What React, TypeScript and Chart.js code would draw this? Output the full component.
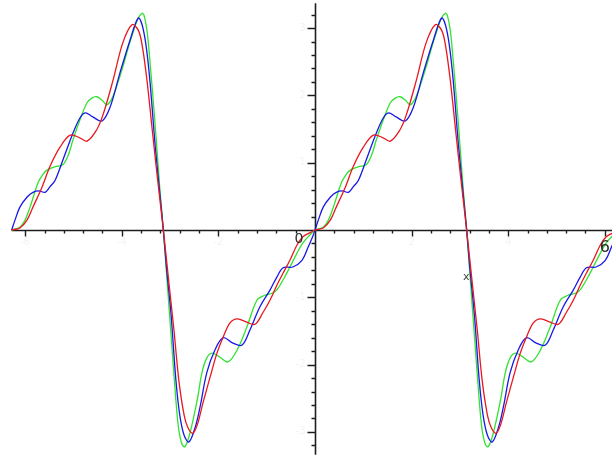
import { useEffect, useRef } from "react";
import { Chart, registerables } from "chart.js";

Chart.register(...registerables);

// Three periodic partial sums, sampled over [-2π, 2π]
const redX = [
  -6.28, -6.11, -5.96, -5.84, -5.65, -5.49, -5.28, -5.07, -4.87, -4.72, -4.52, -4.39, -4.18, -3.98, -3.79,
  -3.66, -3.58, -3.48, -3.37, -3.27, -3.14, -3.02, -2.92, -2.82, -2.71, -2.63, -2.53, -2.44, -2.32, -2.17,
  -2.03, -1.9, -1.76, -1.61, -1.41, -1.24, -1.08, -0.93, -0.79, -0.66, -0.52, -0.37, -0.25, -0.1, 0,
  0.17, 0.32, 0.44, 0.63, 0.79, 1.0, 1.21, 1.41, 1.56, 1.76, 1.89, 2.1, 2.3, 2.49, 2.62,
  2.7, 2.8, 2.91, 3.01, 3.14, 3.26, 3.36, 3.46, 3.57, 3.65, 3.75, 3.84, 3.96, 4.11, 4.25,
  4.38, 4.52, 4.67, 4.87, 5.04, 5.2, 5.35, 5.49, 5.62, 5.76, 5.91, 6.03, 6.18, 6.28,
];
const redY = [
  0, 0.03, 0.15, 0.34, 0.64, 0.94, 1.23, 1.41, 1.37, 1.32, 1.49, 1.71, 2.23, 2.78, 3.05,
  2.97, 2.75, 2.23, 1.49, 0.82, 0, -0.82, -1.49, -2.23, -2.75, -2.94, -3.02, -2.9, -2.57, -2.18,
  -1.83, -1.59, -1.38, -1.32, -1.37, -1.4, -1.23, -1.04, -0.82, -0.64, -0.45, -0.22, -0.1, -0.04, 0,
  0.03, 0.15, 0.34, 0.64, 0.94, 1.23, 1.41, 1.37, 1.32, 1.49, 1.71, 2.23, 2.78, 3.05,
  2.97, 2.75, 2.23, 1.49, 0.82, 0, -0.82, -1.49, -2.23, -2.75, -2.94, -3.02, -2.9, -2.57, -2.18,
  -1.83, -1.59, -1.38, -1.32, -1.37, -1.4, -1.23, -1.04, -0.82, -0.64, -0.45, -0.22, -0.1, -0.04, 0,
];

const blueX = [
  -6.28, -6.21, -6.11, -5.96, -5.84, -5.71, -5.59, -5.49, -5.38, -5.22, -5.01, -4.87, -4.76, -4.6, -4.41, -4.24,
  -4.04, -3.83, -3.66, -3.58, -3.5, -3.42, -3.31, -3.21, -3.14, -3.08, -2.98, -2.88, -2.8, -2.71, -2.61, -2.48,
  -2.38, -2.24, -2.07, -1.9, -1.7, -1.51, -1.35, -1.14, -0.93, -0.79, -0.66, -0.46, -0.27, -0.14, -0.06, 0,
  0.07, 0.17, 0.32, 0.44, 0.57, 0.69, 0.79, 0.9, 1.06, 1.27, 1.41, 1.52, 1.68, 1.87, 2.04,
  2.24, 2.45, 2.62, 2.7, 2.78, 2.86, 2.97, 3.07, 3.14, 3.2, 3.3, 3.4, 3.48, 3.57, 3.67, 3.8,
  3.9, 4.04, 4.21, 4.38, 4.58, 4.77, 4.93, 5.14, 5.35, 5.49, 5.62, 5.82, 6.01, 6.14, 6.22, 6.28,
];
const blueY = [
  0, 0.15, 0.34, 0.49, 0.56, 0.58, 0.56, 0.64, 0.74, 1.04, 1.44, 1.66, 1.74, 1.68, 1.62, 1.83,
  2.33, 2.82, 3.15, 3.05, 2.75, 2.23, 1.26, 0.52, 0, -0.52, -1.26, -2.23, -2.75, -3.05, -3.15, -2.93,
  -2.63, -2.12, -1.78, -1.6, -1.68, -1.71, -1.49, -1.14, -0.89, -0.7, -0.56, -0.55, -0.45, -0.25, -0.12, 0,
  0.15, 0.34, 0.49, 0.56, 0.58, 0.56, 0.64, 0.74, 1.04, 1.44, 1.66, 1.74, 1.68, 1.62, 1.83,
  2.33, 2.82, 3.15, 3.05, 2.75, 2.23, 1.26, 0.52, 0, -0.52, -1.26, -2.23, -2.75, -3.05, -3.15, -2.93,
  -2.63, -2.12, -1.78, -1.6, -1.68, -1.71, -1.49, -1.14, -0.89, -0.7, -0.56, -0.55, -0.45, -0.25, -0.12, 0,
];

const greenX = [
  -6.28, -6.11, -6.0, -5.9, -5.73, -5.63, -5.55, -5.38, -5.22, -5.11, -5.01, -4.87, -4.72, -4.62, -4.52, -4.41,
  -4.31, -4.2, -4.1, -3.98, -3.87, -3.77, -3.66, -3.58, -3.54, -3.48, -3.42, -3.31, -3.21, -3.14, -3.08, -2.98,
  -2.88, -2.82, -2.75, -2.69, -2.59, -2.44, -2.34, -2.24, -2.13, -1.97, -1.8, -1.61, -1.41, -1.2, -1.04, -0.89,
  -0.79, -0.66, -0.52, -0.37, -0.25, -0.1, 0,
  0.17, 0.28, 0.38, 0.55, 0.65, 0.73, 0.9, 1.06, 1.17, 1.27, 1.41, 1.56, 1.66, 1.76, 1.87,
  1.97, 2.08, 2.18, 2.3, 2.41, 2.51, 2.62, 2.7, 2.74, 2.8, 2.86, 2.97, 3.07, 3.14, 3.2, 3.3,
  3.4, 3.46, 3.53, 3.59, 3.69, 3.84, 3.94, 4.04, 4.15, 4.31, 4.48, 4.67, 4.87, 5.08, 5.24, 5.39,
  5.49, 5.62, 5.76, 5.91, 6.03, 6.18, 6.28,
];
const greenY = [
  0, 0.04, 0.15, 0.34, 0.71, 0.83, 0.89, 0.94, 0.97, 1.11, 1.34, 1.63, 1.89, 1.96, 1.98, 1.93,
  1.86, 1.96, 2.15, 2.42, 2.7, 2.93, 3.15, 3.22, 3.19, 2.97, 2.53, 1.56, 0.59, 0, -0.59, -1.56,
  -2.53, -2.97, -3.19, -3.22, -3.02, -2.53, -2.12, -1.9, -1.83, -1.89, -1.96, -1.78, -1.44, -1.04, -0.97, -0.94,
  -0.89, -0.74, -0.55, -0.34, -0.19, -0.07, 0,
  0.04, 0.15, 0.34, 0.71, 0.83, 0.89, 0.94, 0.97, 1.11, 1.34, 1.63, 1.89, 1.96, 1.98, 1.93,
  1.86, 1.96, 2.15, 2.42, 2.7, 2.93, 3.15, 3.22, 3.19, 2.97, 2.53, 1.56, 0.59, 0, -0.59, -1.56,
  -2.53, -2.97, -3.19, -3.22, -3.02, -2.53, -2.12, -1.9, -1.83, -1.89, -1.96, -1.78, -1.44, -1.04, -0.97, -0.94,
  -0.89, -0.74, -0.55, -0.34, -0.19, -0.07, 0,
];

// Axis ticks and labels
const xMajorTicks = [-6, -4, -2, 2, 4, 6];
const yMajorTicks = [-3, -2, -1, 1, 2, 3];
const xMinorStep = 0.4;
const yMinorStep = 0.2;
const xFaintLabels = ["-6", "-4", "-2", "2", "4"];
const yFaintLabels = ["-3", "-2", "-1", "1", "2", "3"];

// View window and axis extents
const X_MIN = -6.522;
const X_MAX = 6.149;
const Y_MIN = -3.403;
const Y_MAX = 3.4175;
const X_AXIS_FROM = -6.283;
const Y_AXIS_TOP = 3.37;
const Y_AXIS_BOTTOM = -3.34;

const toPoints = (xs: number[], ys: number[]) => xs.map((x, i) => ({ x, y: ys[i] }));

const axesPlugin = {
  id: "plotAxes",
  beforeDatasetsDraw(chart: any) {
    const { ctx } = chart;
    const xs = chart.scales.x;
    const ys = chart.scales.y;
    const x0 = Math.round(xs.getPixelForValue(0)) + 0.5;
    const y0 = Math.round(ys.getPixelForValue(0)) + 0.5;
    ctx.save();
    ctx.strokeStyle = "#1e1e1e";
    ctx.lineWidth = 1.6;
    ctx.beginPath();
    ctx.moveTo(xs.getPixelForValue(X_AXIS_FROM), y0);
    ctx.lineTo(chart.width, y0);
    ctx.moveTo(x0, ys.getPixelForValue(Y_AXIS_TOP));
    ctx.lineTo(x0, ys.getPixelForValue(Y_AXIS_BOTTOM));
    ctx.stroke();

    ctx.lineWidth = 1.4;
    ctx.beginPath();
    for (let k = -15; k <= 15; k++) {
      if (k === 0) continue;
      const v = k * xMinorStep;
      const major = xMajorTicks.some((m) => Math.abs(m - v) < 1e-6);
      const px = Math.round(xs.getPixelForValue(v)) + 0.5;
      ctx.moveTo(px, y0);
      ctx.lineTo(px, y0 + (major ? 6 : 3));
    }
    for (let k = -16; k <= 16; k++) {
      if (k === 0) continue;
      const v = k * yMinorStep;
      const major = yMajorTicks.some((m) => Math.abs(m - v) < 1e-6);
      const py = Math.round(ys.getPixelForValue(v)) + 0.5;
      ctx.moveTo(x0, py);
      ctx.lineTo(x0 - (major ? 8 : 4), py);
    }
    ctx.stroke();

    // very light tick labels
    ctx.fillStyle = "#f3f3f3";
    ctx.font = "10px 'DejaVu Sans', sans-serif";
    ctx.textAlign = "right";
    ctx.textBaseline = "middle";
    yMajorTicks.forEach((v, i) => {
      ctx.fillText(yFaintLabels[i], x0 - 10, ys.getPixelForValue(v));
    });
    ctx.textAlign = "center";
    ctx.textBaseline = "top";
    xMajorTicks.slice(0, 5).forEach((v, i) => {
      ctx.fillText(xFaintLabels[i], xs.getPixelForValue(v), y0 + 7);
    });
    ctx.restore();
  },
  afterDatasetsDraw(chart: any) {
    const { ctx } = chart;
    const xs = chart.scales.x;
    const ys = chart.scales.y;
    const y0 = ys.getPixelForValue(0);
    ctx.save();
    ctx.fillStyle = "#2a2a2a";
    ctx.textAlign = "center";
    ctx.textBaseline = "middle";
    ctx.font = "14px 'DejaVu Sans', sans-serif";
    ctx.fillText("0", xs.getPixelForValue(0) - 16, y0 + 9);
    ctx.font = "16px 'DejaVu Sans', sans-serif";
    ctx.fillText("6", xs.getPixelForValue(6), y0 + 18);
    ctx.font = "11px 'DejaVu Sans', sans-serif";
    ctx.fillStyle = "#444";
    ctx.fillText("x", xs.getPixelForValue(3.13), ys.getPixelForValue(-0.7));
    ctx.restore();
  },
};

export default function App() {
  const canvasRef = useRef<HTMLCanvasElement | null>(null);

  useEffect(() => {
    const canvas = canvasRef.current;
    if (!canvas) return;
    const line = (label: string, color: string, xs: number[], ys: number[]) => ({
      label,
      data: toPoints(xs, ys),
      borderColor: color,
      backgroundColor: color,
      borderWidth: 1.3,
      pointRadius: 0,
      tension: 0.35,
      fill: false,
    });
    const chart = new Chart(canvas, {
      type: "line",
      data: {
        datasets: [
          line("red", "rgb(232,24,30)", redX, redY),
          line("blue", "rgb(24,24,232)", blueX, blueY),
          line("green", "rgb(50,226,50)", greenX, greenY),
        ],
      },
      options: {
        animation: false,
        responsive: false,
        devicePixelRatio: 1,
        layout: { padding: 0 },
        events: [],
        plugins: { legend: { display: false }, tooltip: { enabled: false } },
        scales: {
          x: { type: "linear", min: X_MIN, max: X_MAX, display: false },
          y: { type: "linear", min: Y_MIN, max: Y_MAX, display: false },
        },
      },
      plugins: [axesPlugin],
    });
    return () => chart.destroy();
  }, []);

  return (
    <div style={{ position: "fixed", left: 0, top: 0, width: 612, height: 459, background: "#fff" }}>
      <canvas ref={canvasRef} width={612} height={459} style={{ display: "block" }} />
    </div>
  );
}
